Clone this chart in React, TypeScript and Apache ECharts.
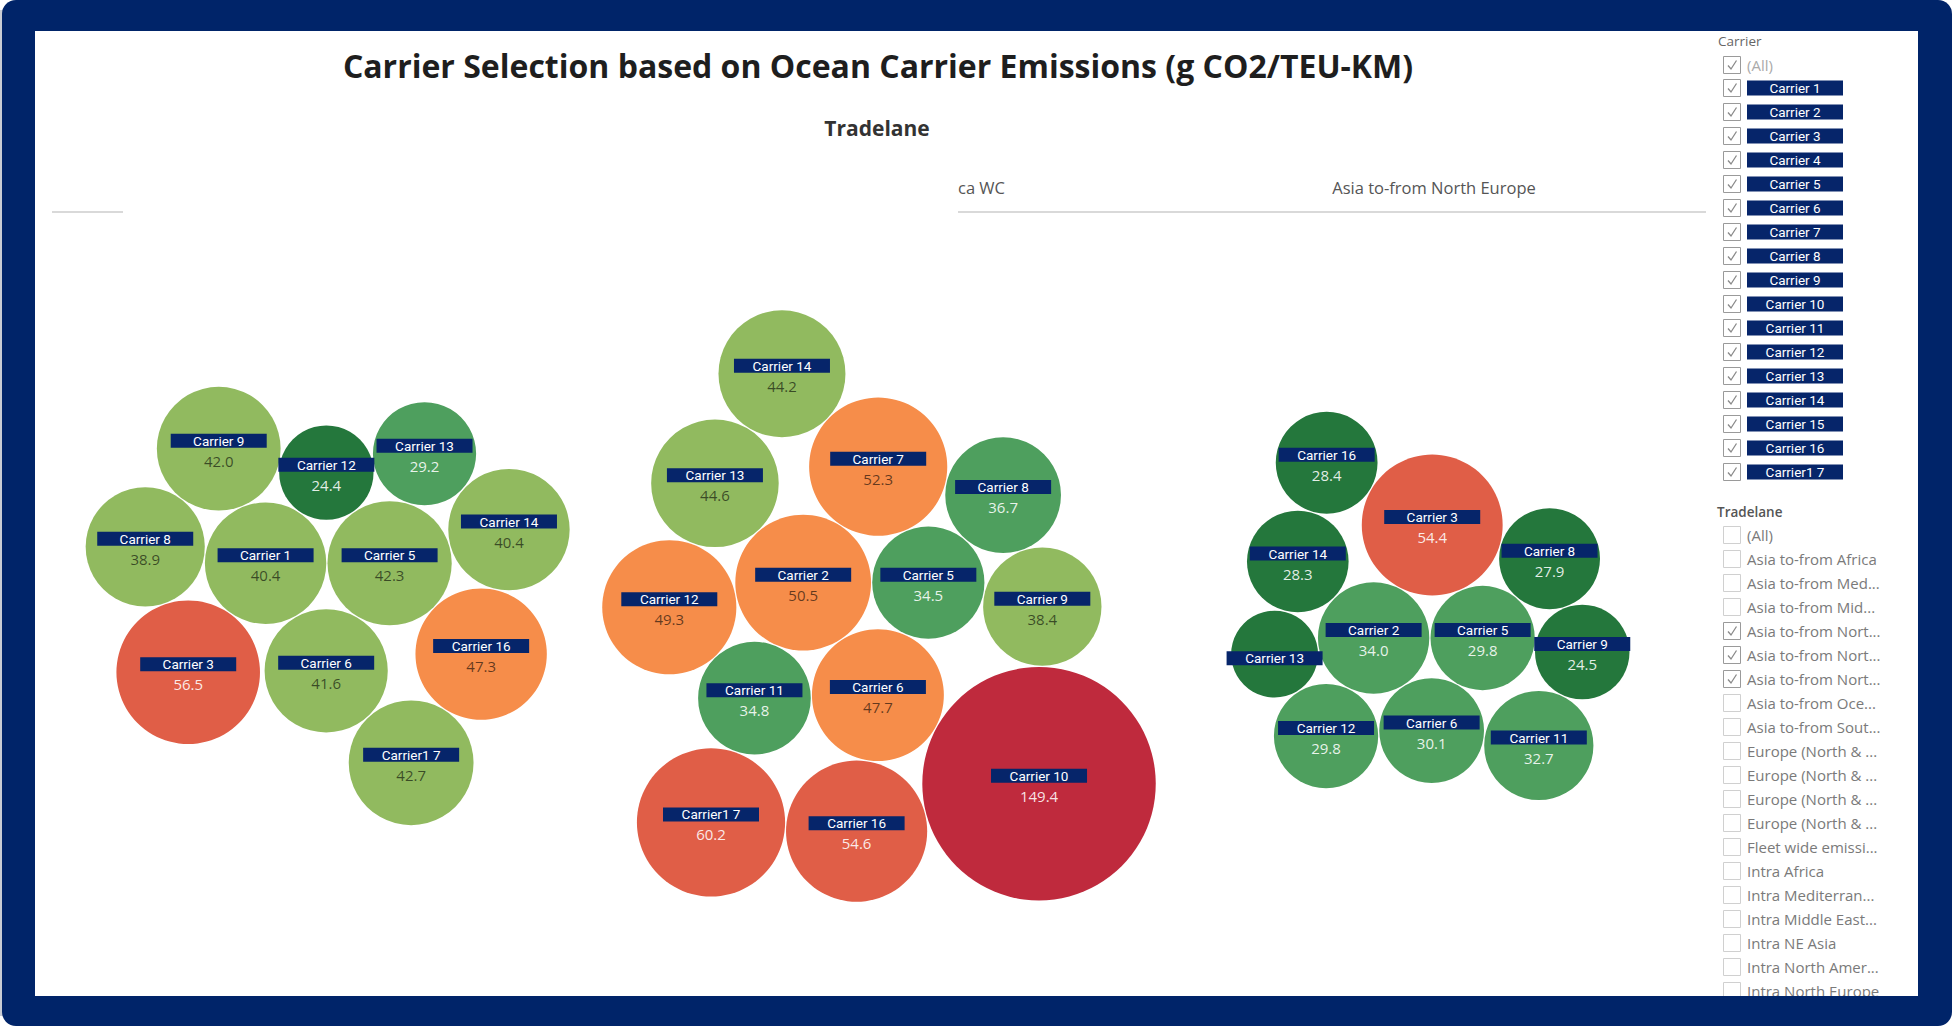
import React, { useEffect, useRef } from "react";
import * as echarts from "echarts";

// ---------- texts ----------
const TITLE = "Carrier Selection based on Ocean Carrier Emissions (g CO2/TEU-KM)";
const COLUMN_TITLE = "Tradelane";
const paneHeaders = ["", "ca WC", "Asia to-from North Europe"];

// ---------- data (g CO2 / TEU-KM) ----------
const pane1Carriers = ["Carrier 1", "Carrier 5", "Carrier 12", "Carrier 9", "Carrier 13", "Carrier 14", "Carrier 8", "Carrier 3", "Carrier 6", "Carrier 16", "Carrier1 7"];
const pane1Values = [40.4, 42.3, 24.4, 42.0, 29.2, 40.4, 38.9, 56.5, 41.6, 47.3, 42.7];

const pane2Carriers = ["Carrier 2", "Carrier 5", "Carrier 7", "Carrier 6", "Carrier 11", "Carrier 12", "Carrier 13", "Carrier 14", "Carrier 8", "Carrier 9", "Carrier 10", "Carrier 16", "Carrier1 7"];
const pane2Values = [50.5, 34.5, 52.3, 47.7, 34.8, 49.3, 44.6, 44.2, 36.7, 38.4, 149.4, 54.6, 60.2];

const pane3Carriers = ["Carrier 2", "Carrier 5", "Carrier 3", "Carrier 6", "Carrier 12", "Carrier 8", "Carrier 9", "Carrier 11", "Carrier 13", "Carrier 14", "Carrier 16"];
const pane3Values = [34.0, 29.8, 54.4, 30.1, 29.8, 27.9, 24.5, 32.7, 20.7, 28.3, 28.4];

// packing recipe: each bubble (from the 3rd on) touches bubbles [a, b] on side s
const pane1Packing = [[0, 1, -1], [0, 2, -1], [2, 1, -1], [4, 1, -1], [3, 0, 1], [6, 0, 1], [0, 1, 1], [5, 1, -1], [8, 9, 1]];
const pane2Packing = [[0, 1, -1], [0, 1, 1], [0, 3, 1], [0, 4, 1], [0, 5, 1], [6, 2, -1], [2, 1, -1], [1, 8, 1], [3, 9, 1], [3, 10, 1], [4, 11, 1]];
const pane3Packing = [[0, 1, -1], [0, 1, 1], [0, 3, 1], [2, 1, -1], [1, 5, 1], [3, 6, 1], [0, 4, 1], [8, 0, -1], [9, 2, -1]];

// filters
const carrierFilterItems = ["Carrier 1", "Carrier 2", "Carrier 3", "Carrier 4", "Carrier 5", "Carrier 6", "Carrier 7", "Carrier 8", "Carrier 9", "Carrier 10", "Carrier 11", "Carrier 12", "Carrier 13", "Carrier 14", "Carrier 15", "Carrier 16", "Carrier1 7"];
const tradelaneFilterItems = ["(All)", "Asia to-from Africa", "Asia to-from Med...", "Asia to-from Mid...", "Asia to-from Nort...", "Asia to-from Nort...", "Asia to-from Nort...", "Asia to-from Oce...", "Asia to-from Sout...", "Europe (North & ...", "Europe (North & ...", "Europe (North & ...", "Europe (North & ...", "Fleet wide emissi...", "Intra Africa", "Intra Mediterran...", "Intra Middle East...", "Intra NE Asia", "Intra North Amer...", "Intra North Europe"];
const tradelaneChecked = [false, false, false, false, true, true, true, false, false, false, false, false, false, false, false, false, false, false, false, false];

// colour steps
const colorBreaks = [29, 37.5, 46, 53.5, 100];
const palette = ["#24773C", "#4E9F5E", "#91BA5F", "#F68D4A", "#E05E47", "#BF2A3D"];
const darkLabelOnStep = [false, false, true, true, false, false];

// ---------- layout constants ----------
const W = 1952;
const H = 1026;
const NAVY = "#002469";
const BAR = "#06256A";
const K = 9.55; // px per sqrt(value) (bubble radius)
const GAP = 1.2;
const VIEW_LEFT = 52;
const VIEW_RIGHT = 1706;
const PANE_TOP = 212;
const PANE_BOTTOM = 1000;
const FONT = "Roboto, 'Open Sans', sans-serif";
const WIDE = "'Open Sans', sans-serif";

function stepOf(v: number) {
  let i = 0;
  while (i < colorBreaks.length && v >= colorBreaks[i]) i++;
  return i;
}

function packPane(names: string[], values: number[], recipe: number[][], paneIndex: number) {
  const r = values.map((v) => K * Math.sqrt(v));
  const p: number[][] = [[0, 0], [r[0] + r[1] + GAP, 0]];
  recipe.forEach(([a, b, s], j) => {
    const i = j + 2;
    const A = p[a];
    const B = p[b];
    const da = r[a] + r[i] + GAP;
    const db = r[b] + r[i] + GAP;
    const dx = B[0] - A[0];
    const dy = B[1] - A[1];
    const d = Math.hypot(dx, dy);
    const x = (da * da - db * db + d * d) / (2 * d);
    const h = Math.sqrt(Math.max(0, da * da - x * x));
    const ux = dx / d;
    const uy = dy / d;
    p[i] = [A[0] + x * ux - s * h * uy, A[1] + x * uy + s * h * ux];
  });
  let minX = Infinity, maxX = -Infinity, minY = Infinity, maxY = -Infinity;
  p.forEach((q, i) => {
    minX = Math.min(minX, q[0] - r[i]);
    maxX = Math.max(maxX, q[0] + r[i]);
    minY = Math.min(minY, q[1] - r[i]);
    maxY = Math.max(maxY, q[1] + r[i]);
  });
  const paneW = (VIEW_RIGHT - VIEW_LEFT) / 3;
  const cx = VIEW_LEFT + paneW * (paneIndex + 0.5);
  const cy = (PANE_TOP + PANE_BOTTOM) / 2;
  const ox = cx - (minX + maxX) / 2;
  const oy = cy - (minY + maxY) / 2;
  return p.map((q, i) => ({
    name: names[i],
    value: [q[0] + ox, q[1] + oy, values[i]],
  }));
}

function txt(x: number, y: number, text: string, o: any = {}) {
  const align = o.align || "left";
  return {
    type: "text",
    x,
    y,
    silent: true,
    style: {
      text,
      fill: o.fill || "#333",
      fontSize: o.fontSize || 13,
      fontFamily: o.fontFamily || FONT,
      fontWeight: o.fontWeight || "normal",
      align,
      textAlign: align,
      verticalAlign: "middle",
      textVerticalAlign: "middle",
    },
  };
}

function checkbox(x: number, cy: number, checked: boolean) {
  const els: any[] = [
    {
      type: "rect",
      silent: true,
      shape: { x: x + 0.5, y: cy - 8.5, width: 17, height: 17 },
      style: { fill: "#fff", stroke: checked ? "#9a9a9a" : "#d0d0d0", lineWidth: 1 },
    },
  ];
  if (checked) {
    els.push({
      type: "polyline",
      silent: true,
      shape: { points: [[x + 5, cy + 0.5], [x + 8, cy + 4], [x + 13.5, cy - 4.5]] },
      style: { stroke: "#8a8a8a", lineWidth: 1.3, fill: "none" },
    });
  }
  return els;
}

function buildGraphics() {
  const els: any[] = [];
  els.push({ type: "rect", silent: true, shape: { x: 0, y: 10, width: 3, height: H - 20 }, style: { fill: "#c9ccd4" } });
  els.push({ type: "rect", silent: true, shape: { x: 2, y: 0, width: W - 2, height: H, r: 14 }, style: { fill: NAVY } });
  els.push({ type: "rect", silent: true, shape: { x: 35, y: 31, width: 1883, height: 965 }, style: { fill: "#ffffff" } });

  // title & column title
  els.push(txt(878, 65, TITLE, { align: "center", fontSize: 32, fontWeight: "bold", fill: "#1e1e1e", fontFamily: WIDE }));
  els.push(txt(877, 128, COLUMN_TITLE, { align: "center", fontSize: 21, fontWeight: "bold", fill: "#333", fontFamily: WIDE }));

  // pane headers
  els.push(txt(958, 187, paneHeaders[1], { fontSize: 16.5, fill: "#555", fontFamily: WIDE }));
  els.push(txt(1434, 187, paneHeaders[2], { align: "center", fontSize: 16.5, fill: "#555", fontFamily: WIDE }));
  els.push({ type: "rect", silent: true, shape: { x: 52, y: 211, width: 71, height: 2 }, style: { fill: "#d9d9d9" } });
  els.push({ type: "rect", silent: true, shape: { x: 958, y: 211, width: 748, height: 2 }, style: { fill: "#d9d9d9" } });

  // Carrier filter
  els.push(txt(1718, 41, "Carrier", { fontSize: 13.5, fill: "#666", fontFamily: WIDE }));
  els.push(...checkbox(1723, 65, true));
  els.push(txt(1747, 65, "(All)", { fontSize: 15, fill: "#aaa", fontFamily: WIDE }));
  carrierFilterItems.forEach((name, i) => {
    const cy = 88 + 24 * i;
    els.push(...checkbox(1723, cy, true));
    els.push({ type: "rect", silent: true, shape: { x: 1747, y: cy - 7.5, width: 96, height: 15 }, style: { fill: BAR } });
    els.push(txt(1795, cy, name, { align: "center", fontSize: 13.5, fill: "#fff" }));
  });

  // Tradelane filter
  els.push(txt(1717, 512, "Tradelane", { fontSize: 13.5, fontWeight: 600, fill: "#555", fontFamily: WIDE }));
  tradelaneFilterItems.forEach((name, i) => {
    const cy = 535 + 24 * i;
    els.push(...checkbox(1723, cy, tradelaneChecked[i]));
    els.push(txt(1747, cy, name, { fontSize: 15, fill: "#7a7a7a", fontFamily: WIDE }));
  });

  // bottom frame strip (clips the list)
  els.push({ type: "rect", silent: true, shape: { x: 35, y: 996, width: 1883, height: 20 }, style: { fill: NAVY } });
  return els;
}

export default function App() {
  const ref = useRef<HTMLDivElement>(null);
  useEffect(() => {
    if (!ref.current) return;
    const chart = echarts.init(ref.current, undefined, { renderer: "svg" });
    const data = [
      ...packPane(pane1Carriers, pane1Values, pane1Packing, 0),
      ...packPane(pane2Carriers, pane2Values, pane2Packing, 1),
      ...packPane(pane3Carriers, pane3Values, pane3Packing, 2),
    ];
    const pieces: any[] = palette.map((c, i) => {
      const piece: any = { color: c };
      if (i > 0) piece.gte = colorBreaks[i - 1];
      if (i < colorBreaks.length) piece.lt = colorBreaks[i];
      return piece;
    });
    chart.setOption({
      animation: false,
      backgroundColor: "#ffffff",
      graphic: { elements: buildGraphics() },
      grid: { left: 0, right: 0, top: 0, bottom: 0, containLabel: false },
      xAxis: { type: "value", min: 0, max: W, show: false },
      yAxis: { type: "value", min: 0, max: H, inverse: true, show: false },
      visualMap: { type: "piecewise", show: false, dimension: 2, seriesIndex: 0, pieces },
      series: [
        {
          type: "scatter",
          data,
          symbol: "circle",
          symbolSize: (val: number[]) => 2 * K * Math.sqrt(val[2]),
          itemStyle: { opacity: 1 },
          emphasis: { disabled: true },
          silent: true,
          z: 3,
          label: {
            show: true,
            position: "inside",
            offset: [0, 4],
            formatter: (p: any) => {
              const v = p.value[2];
              const r = K * Math.sqrt(v);
              if (r < 45) return `{n|${p.name}}`;
              const tone = darkLabelOnStep[stepOf(v)] ? "d" : "w";
              return `{n|${p.name}}\n{${tone}|${v.toFixed(1)}}`;
            },
            rich: {
              n: {
                backgroundColor: BAR,
                color: "#ffffff",
                width: 96,
                height: 14,
                lineHeight: 16,
                align: "center",
                fontSize: 13.5,
                fontFamily: FONT,
              },
              d: { color: "rgba(0,0,0,0.6)", fontSize: 15, lineHeight: 24, align: "center", fontFamily: WIDE },
              w: { color: "rgba(255,255,255,0.88)", fontSize: 15, lineHeight: 24, align: "center", fontFamily: WIDE },
            },
          },
        },
      ],
    });
    return () => chart.dispose();
  }, []);
  return <div ref={ref} style={{ position: "fixed", left: 0, top: 0, width: W, height: H }} />;
}
